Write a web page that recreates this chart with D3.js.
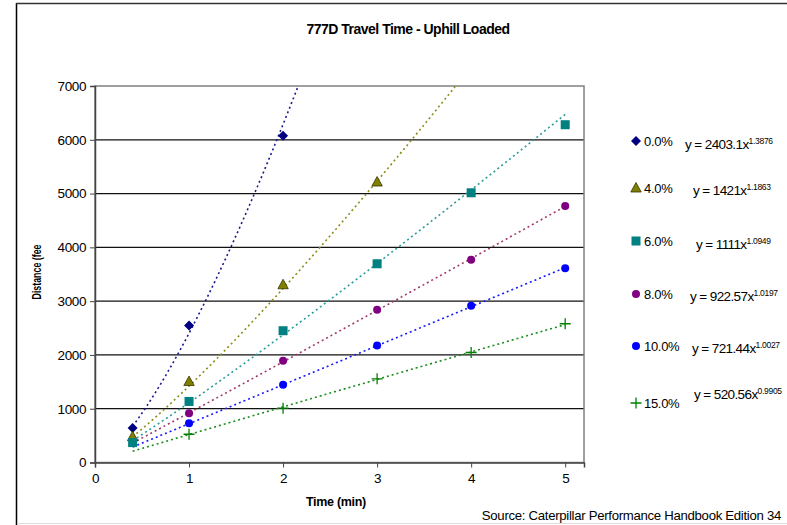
<!DOCTYPE html>
<html>
<head>
<meta charset="utf-8">
<script src="https://cdn.jsdelivr.net/npm/d3@7"></script>
<style>
  html, body { margin: 0; padding: 0; background: #fff; }
  svg { display: block; font-family: "Liberation Sans", Arial, sans-serif; }
</style>
</head>
<body>
<svg id="chart" width="787" height="525"></svg>
<script>
// ---- data ----
const grades = ["0.0%", "4.0%", "6.0%", "8.0%", "10.0%", "15.0%"];
const times = [0.4, 1, 2, 3, 4, 5];
// null = no visible marker at that time
const dist0  = [640, 2545, 6075];
const dist4  = [480, 1505, 3305, 5215];
const dist6  = [370, 1135, 2450, 3695, 5015, 6280];
const dist8  = [null, 915, 1890, 2840, 3770, 4770];
const dist10 = [null, 730, 1445, 2175, 2915, 3610];
const dist15 = [null, 525, 1010, 1555, 2045, 2580];
const coefA = [2403.1, 1421, 1111, 922.57, 721.44, 520.56];
const coefB = [1.3876, 1.1863, 1.0949, 1.0197, 1.0027, 0.9905];
const coefAText = ["2403.1", "1421", "1111", "922.57", "721.44", "520.56"];
const coefBText = ["1.3876", "1.1863", "1.0949", "1.0197", "1.0027", "0.9905"];
const trendRange = [0.4, 5];
const xTicks = [0, 1, 2, 3, 4, 5];
const yTicks = [0, 1000, 2000, 3000, 4000, 5000, 6000, 7000];

const seriesValues = [dist0, dist4, dist6, dist8, dist10, dist15];
const markerColors = ["#000080", "#808000", "#008080", "#800080", "#0000FF", "#008000"];
const lineColors   = ["#1a1a8c", "#8c8c1a", "#2a9a9a", "#a03a6e", "#1a1aff", "#1a8c1a"];
const shapes = ["diamond", "triangle", "square", "circle", "circle", "plus"];

const svg = d3.select("#chart");
const W = 787, H = 525;
const L = 95, R = 584, T = 86, B = 462.5;

const x = d3.scaleLinear().domain([0, 5.2]).range([L, R]);
const y = d3.scaleLinear().domain([0, 7000]).range([B, T]);

// outer frame
svg.append("rect").attr("x", 0).attr("y", 0).attr("width", W).attr("height", H).attr("fill", "#fff");
svg.append("line").attr("x1", 16.5).attr("x2", 16.5).attr("y1", 3).attr("y2", 525).attr("stroke", "#000").attr("stroke-width", 1.5);
svg.append("line").attr("x1", 16).attr("x2", 787).attr("y1", 3.5).attr("y2", 3.5).attr("stroke", "#333").attr("stroke-width", 1.5);
svg.append("line").attr("x1", 17).attr("x2", 787).attr("y1", 523.5).attr("y2", 523.5).attr("stroke", "#ddd").attr("stroke-width", 1);

// title
svg.append("text").attr("x", 408).attr("y", 34).attr("text-anchor", "middle")
  .attr("font-size", 14).attr("font-weight", "bold").attr("letter-spacing", -0.5)
  .text("777D Travel Time - Uphill Loaded");

// gridlines
svg.append("g").selectAll("line").data(yTicks.filter(v => v > 0 && v < 7000)).join("line")
  .attr("x1", L).attr("x2", R).attr("y1", d => y(d)).attr("y2", d => y(d))
  .attr("stroke", "#111").attr("stroke-width", 1.3);

// plot border
svg.append("rect").attr("x", L).attr("y", T).attr("width", R - L).attr("height", B - T)
  .attr("fill", "none").attr("stroke", "#808080").attr("stroke-width", 1.5);

// axes
const yAxis = d3.axisLeft(y).tickValues(yTicks).tickSize(5).tickPadding(4).tickFormat(d3.format("d"));
const gy = svg.append("g").attr("transform", `translate(${L},0)`).call(yAxis);
const xAxis = d3.axisBottom(x).tickValues(xTicks).tickSize(5).tickPadding(6).tickFormat(d3.format("d"));
const gx = svg.append("g").attr("transform", `translate(0,${B})`).call(xAxis);
[gy, gx].forEach(g => {
  g.select(".domain").attr("stroke", "#444").attr("stroke-width", 1.5);
  g.selectAll(".tick line").attr("stroke", "#444").attr("stroke-width", 1);
  g.selectAll(".tick text").attr("font-size", 13.5).attr("fill", "#000")
    .attr("font-family", "Liberation Sans, Arial, sans-serif").attr("letter-spacing", -0.4);
});

// axis titles
svg.append("text").attr("x", 336).attr("y", 506).attr("text-anchor", "middle")
  .attr("font-size", 12.5).attr("font-weight", "bold").attr("letter-spacing", -0.3).text("Time (min)");
svg.append("text").attr("transform", "translate(41,272) rotate(-90)").attr("text-anchor", "middle")
  .attr("font-size", 12.5).attr("font-weight", "bold")
  .attr("textLength", 55).attr("lengthAdjust", "spacingAndGlyphs").text("Distance (fee");

// source
svg.append("text").attr("x", 781).attr("y", 520).attr("text-anchor", "end")
  .attr("font-size", 13.2).attr("letter-spacing", -0.3)
  .text("Source: Caterpillar Performance Handbook Edition 34");

// clip
svg.append("clipPath").attr("id", "plotclip").append("rect")
  .attr("x", L).attr("y", T).attr("width", R - L).attr("height", B - T);

// trendlines
const line = d3.line().x(d => x(d[0])).y(d => y(d[1]));
const gTrend = svg.append("g").attr("clip-path", "url(#plotclip)");
seriesValues.forEach((vals, i) => {
  const pts = d3.range(0, 301).map(k => {
    const t = trendRange[0] + (trendRange[1] - trendRange[0]) * k / 300;
    return [t, coefA[i] * Math.pow(t, coefB[i])];
  });
  gTrend.append("path").datum(pts).attr("d", line).attr("fill", "none")
    .attr("stroke", lineColors[i]).attr("stroke-width", 1.6).attr("stroke-dasharray", "2,3");
});

// markers
function drawMarker(g, shape, cx, cy, color) {
  if (shape === "diamond") {
    g.append("path").attr("d", `M${cx},${cy - 5}L${cx + 5},${cy}L${cx},${cy + 5}L${cx - 5},${cy}Z`)
      .attr("fill", color);
  } else if (shape === "triangle") {
    g.append("path").attr("d", `M${cx},${cy - 5.5}L${cx + 5.2},${cy + 4}L${cx - 5.2},${cy + 4}Z`)
      .attr("fill", color).attr("stroke", "#333300").attr("stroke-width", 0.8);
  } else if (shape === "square") {
    g.append("rect").attr("x", cx - 4.5).attr("y", cy - 4.5).attr("width", 9).attr("height", 9).attr("fill", color);
  } else if (shape === "circle") {
    g.append("circle").attr("cx", cx).attr("cy", cy).attr("r", 4).attr("fill", color);
  } else if (shape === "plus") {
    g.append("path").attr("d", `M${cx - 5.5},${cy}H${cx + 5.5}M${cx},${cy - 5.5}V${cy + 5.5}`)
      .attr("stroke", color).attr("stroke-width", 1.3).attr("fill", "none");
  }
}
const gMarks = svg.append("g");
seriesValues.forEach((vals, i) => {
  vals.forEach((v, j) => { if (v != null) drawMarker(gMarks, shapes[i], x(times[j]), y(v), markerColors[i]); });
});

// legend
const legY = [141, 188, 241, 294, 346, 403];
const eqX = [685, 693, 696, 690, 692, 694];
const eqDy = [8, 7, 8, 7, 7, -4];
const gLeg = svg.append("g");
grades.forEach((gname, i) => {
  drawMarker(gLeg, shapes[i], 636, legY[i], markerColors[i]);
  gLeg.append("text").attr("x", 644).attr("y", legY[i] + 4.5).attr("font-size", 13)
    .attr("letter-spacing", -0.3).text(gname);
  const t = gLeg.append("text").attr("x", eqX[i]).attr("y", legY[i] + eqDy[i]).attr("font-size", 13.5)
    .attr("letter-spacing", -0.6);
  t.append("tspan").text("y = " + coefAText[i] + "x");
  t.append("tspan").attr("font-size", 8.5).attr("dy", -5).attr("letter-spacing", -0.3).text(coefBText[i]);
});
</script>
</body>
</html>
